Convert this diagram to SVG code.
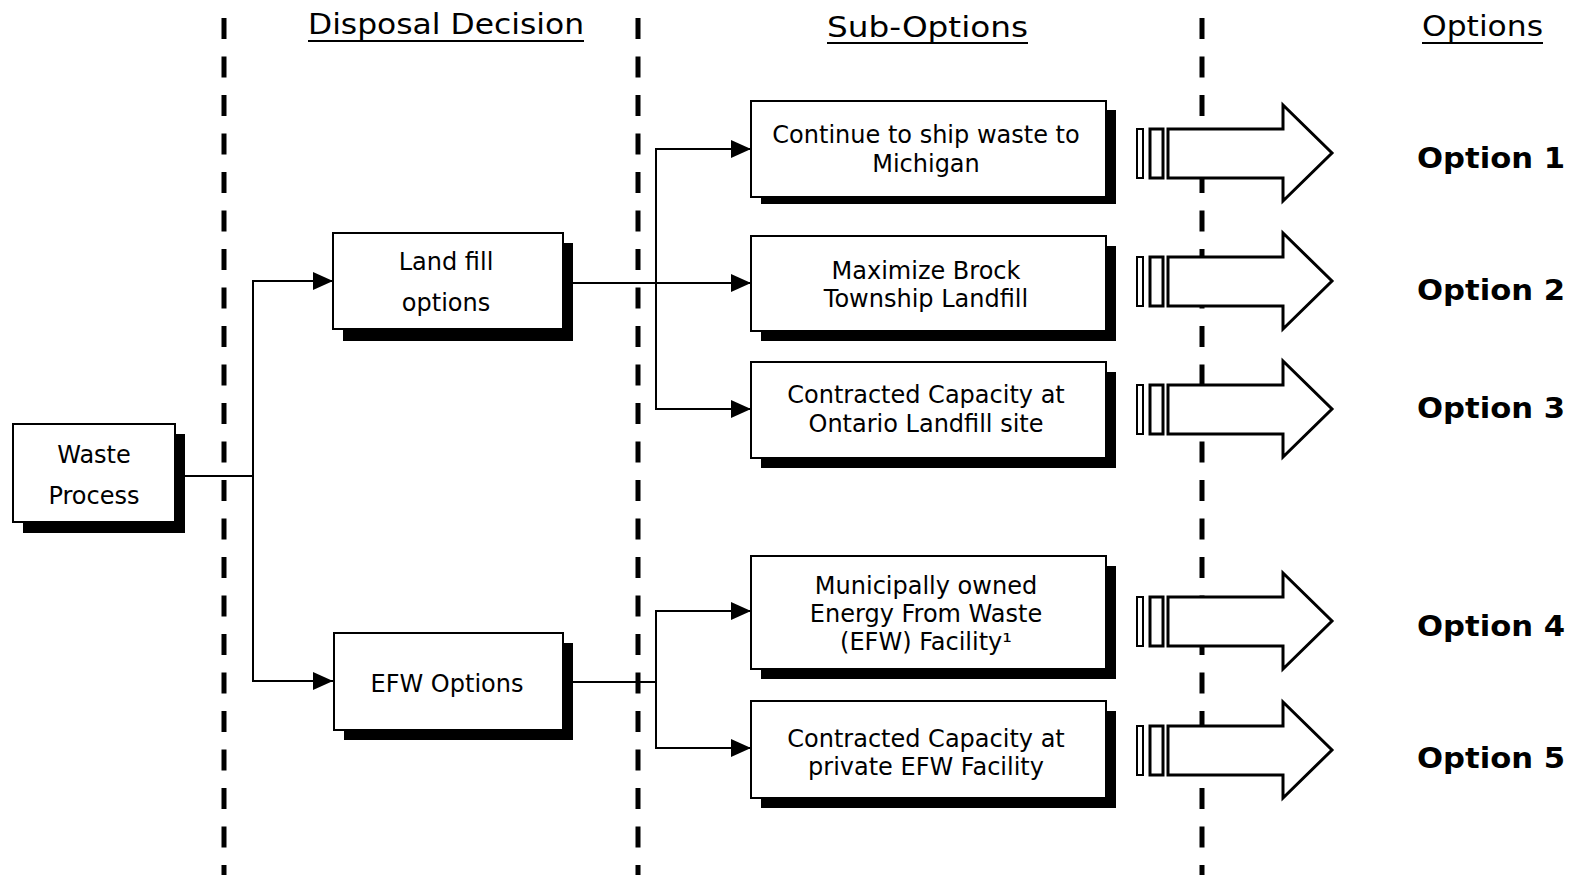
<svg xmlns="http://www.w3.org/2000/svg" width="1575" height="875" viewBox="0 0 1575 875">
<style>
  .bg{fill:#fff}
  .box{fill:#fff;stroke:#000;stroke-width:2}
  .shadow{fill:#000}
  .t{font-family:"DejaVu Sans","Liberation Sans",sans-serif;font-size:24px;fill:#000;text-anchor:middle}
  .hdr{font-family:"DejaVu Sans","Liberation Sans",sans-serif;font-size:29px;fill:#000}
  .opt{font-family:"DejaVu Sans","Liberation Sans",sans-serif;font-size:28px;font-weight:bold;fill:#000}
  .div{stroke:#000;stroke-width:5;stroke-dasharray:21 17.5;fill:none}
  .ul{stroke:#000;stroke-width:2}
  .con{stroke:#000;stroke-width:2;fill:none}
  .blk{fill:#fff;stroke:#000;stroke-width:2}
  .blk2{fill:#fff;stroke:#000;stroke-width:3}
</style>
<defs>
  <marker id="ah" markerWidth="20" markerHeight="18" refX="20" refY="9" orient="auto" markerUnits="userSpaceOnUse">
    <path d="M0,0 L20,9 L0,18 Z" fill="#000"/>
  </marker>
  <g id="barrow">
    <rect class="blk" x="1137" y="-24" width="6" height="49"/>
    <rect class="blk2" x="1150" y="-24" width="13" height="49"/>
    <path class="blk2" d="M1168,-24 H1283 V-48 L1332,0 L1283,48 V25 H1168 Z"/>
  </g>
</defs>
<rect class="bg" x="0" y="0" width="1575" height="875"/>

<g id="dividers">
  <line class="div" x1="224" y1="18" x2="224" y2="875"/>
  <line class="div" x1="638" y1="18" x2="638" y2="875"/>
  <line class="div" x1="1202" y1="18" x2="1202" y2="875"/>
</g>

<g id="headers">
  <text class="hdr" x="308" y="34" textLength="276" lengthAdjust="spacingAndGlyphs">Disposal Decision</text>
  <line class="ul" x1="308" y1="41" x2="584" y2="41"/>
  <text class="hdr" x="827" y="37" textLength="201" lengthAdjust="spacingAndGlyphs">Sub-Options</text>
  <line class="ul" x1="827" y1="43" x2="1028" y2="43"/>
  <text class="hdr" x="1422" y="36" textLength="121" lengthAdjust="spacingAndGlyphs">Options</text>
  <line class="ul" x1="1422" y1="43" x2="1543" y2="43"/>
</g>

<g id="connectors">
  <polyline class="con" points="185,476 253,476"/>
  <polyline class="con" points="253,476 253,281 333,281" marker-end="url(#ah)"/>
  <polyline class="con" points="253,476 253,681 333,681" marker-end="url(#ah)"/>
  <polyline class="con" points="573,283 751,283" marker-end="url(#ah)"/>
  <polyline class="con" points="656,283 656,149 751,149" marker-end="url(#ah)"/>
  <polyline class="con" points="656,283 656,409 751,409" marker-end="url(#ah)"/>
  <polyline class="con" points="573,682 656,682"/>
  <polyline class="con" points="656,682 656,611 751,611" marker-end="url(#ah)"/>
  <polyline class="con" points="656,682 656,748 751,748" marker-end="url(#ah)"/>
</g>

<g id="waste">
  <rect class="shadow" x="23" y="434" width="162" height="99"/>
  <rect class="box" x="13" y="424" width="162" height="98"/>
  <text class="t" x="94" y="463">Waste</text>
  <text class="t" x="94" y="504">Process</text>
</g>

<g id="landfill">
  <rect class="shadow" x="343" y="243" width="230" height="98"/>
  <rect class="box" x="333" y="233" width="230" height="96"/>
  <text class="t" x="446" y="270">Land fill</text>
  <text class="t" x="446" y="311">options</text>
</g>

<g id="efw">
  <rect class="shadow" x="344" y="643" width="229" height="97"/>
  <rect class="box" x="334" y="633" width="229" height="97"/>
  <text class="t" x="447" y="692">EFW Options</text>
</g>

<g id="sub1">
  <rect class="shadow" x="761" y="110" width="355" height="94"/>
  <rect class="box" x="751" y="101" width="355" height="96"/>
  <text class="t" x="926" y="143">Continue to ship waste to</text>
  <text class="t" x="926" y="172">Michigan</text>
</g>

<g id="sub2">
  <rect class="shadow" x="761" y="246" width="355" height="95"/>
  <rect class="box" x="751" y="236" width="355" height="95"/>
  <text class="t" x="926" y="279">Maximize Brock</text>
  <text class="t" x="926" y="307">Township Landfill</text>
</g>

<g id="sub3">
  <rect class="shadow" x="761" y="372" width="355" height="96"/>
  <rect class="box" x="751" y="362" width="355" height="96"/>
  <text class="t" x="926" y="403">Contracted Capacity at</text>
  <text class="t" x="926" y="432">Ontario Landfill site</text>
</g>

<g id="sub4">
  <rect class="shadow" x="761" y="566" width="355" height="113"/>
  <rect class="box" x="751" y="556" width="355" height="113"/>
  <text class="t" x="926" y="594">Municipally owned</text>
  <text class="t" x="926" y="622">Energy From Waste</text>
  <text class="t" x="926" y="650">(EFW) Facility¹</text>
</g>

<g id="sub5">
  <rect class="shadow" x="761" y="711" width="355" height="97"/>
  <rect class="box" x="751" y="701" width="355" height="97"/>
  <text class="t" x="926" y="747">Contracted Capacity at</text>
  <text class="t" x="926" y="775">private EFW Facility</text>
</g>

<g id="option1">
  <use href="#barrow" transform="translate(0,153)"/>
  <text class="opt" x="1417" y="168" textLength="148" lengthAdjust="spacingAndGlyphs">Option 1</text>
</g>
<g id="option2">
  <use href="#barrow" transform="translate(0,281)"/>
  <text class="opt" x="1417" y="300" textLength="148" lengthAdjust="spacingAndGlyphs">Option 2</text>
</g>
<g id="option3">
  <use href="#barrow" transform="translate(0,409)"/>
  <text class="opt" x="1417" y="418" textLength="148" lengthAdjust="spacingAndGlyphs">Option 3</text>
</g>
<g id="option4">
  <use href="#barrow" transform="translate(0,621)"/>
  <text class="opt" x="1417" y="636" textLength="148" lengthAdjust="spacingAndGlyphs">Option 4</text>
</g>
<g id="option5">
  <use href="#barrow" transform="translate(0,750)"/>
  <text class="opt" x="1417" y="768" textLength="148" lengthAdjust="spacingAndGlyphs">Option 5</text>
</g>
</svg>
